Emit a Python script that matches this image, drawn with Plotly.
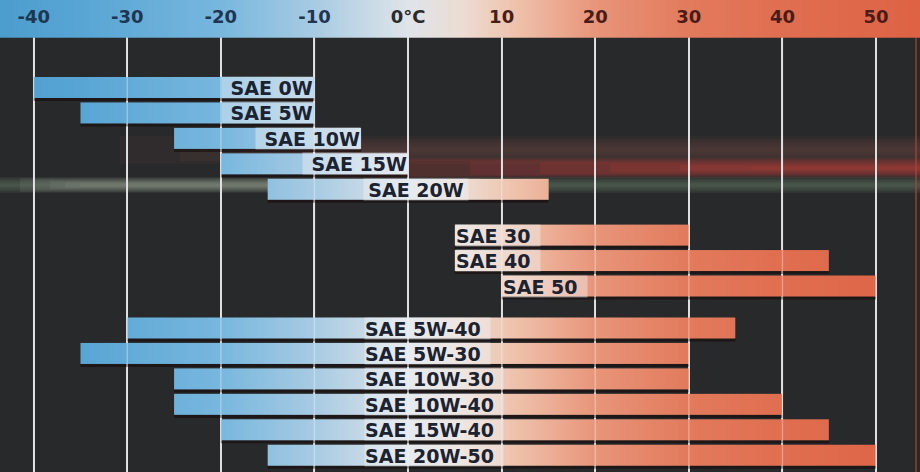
import numpy as np
import plotly.graph_objects as go

# oil grades and the temperature range (°C) each one covers
grades = ["SAE 0W", "SAE 5W", "SAE 10W", "SAE 15W", "SAE 20W",
          "SAE 30", "SAE 40", "SAE 50",
          "SAE 5W-40", "SAE 5W-30", "SAE 10W-30", "SAE 10W-40", "SAE 15W-40", "SAE 20W-50"]
low_temp = [-40, -35, -25, -20, -15, 5, 5, 10, -30, -35, -25, -25, -20, -15]
high_temp = [-10, -10, -5, 0, 15, 30, 45, 50, 35, 30, 30, 40, 45, 50]
group = [0, 0, 0, 0, 0, 1, 1, 1, 2, 2, 2, 2, 2, 2]

tick_vals = [-40, -30, -20, -10, 0, 10, 20, 30, 40, 50]
tick_text = ["-40", "-30", "-20", "-10", "0°C", "10", "20", "30", "40", "50"]

# ---- layout / style ----
W, H = 920, 472
X_RANGE = [-43.6, 54.7]
ROW_PX = 25.45          # pixels per row
FIRST_ROW_PX = 87.5     # pixel centre of the first bar
HEADER_PX = 38
BAR_HALF = 0.413
GAP_AFTER = {0: 0.8, 1: 0.65}

y_top = -FIRST_ROW_PX / ROW_PX
y_bottom = (H - FIRST_ROW_PX) / ROW_PX
header_bottom = y_top + HEADER_PX / ROW_PX

color_stops = [(-44, "#4b9dcd"), (-35, "#58a5d4"), (-20, "#78b7de"), (-10, "#a8cbe3"),
               (0, "#dfe4e9"), (6, "#ecdcd2"), (12, "#eebfa8"), (20, "#e8957a"),
               (30, "#e27a5c"), (40, "#e06e50"), (55, "#de6244")]
cmin, cmax = color_stops[0][0], color_stops[-1][0]
colorscale = [[(t - cmin) / (cmax - cmin), c] for t, c in color_stops]

# where each label sits: (anchor, temperature)
label_place = [("right", "hi"), ("right", "hi"), ("right", "hi"), ("right", "hi"), ("center", 0.8),
               ("left", "lo"), ("left", "lo"), ("left", "lo"),
               ("left", -4.7), ("left", -4.7), ("left", -4.7), ("left", -4.7), ("left", -4.7), ("left", -4.7)]

# DejaVu Sans Bold advance widths (em) for label box sizing
CHAR_EM = {"S": .72, "A": .774, "E": .683, " ": .348, "W": 1.03, "-": .415}
LABEL_FONT = 19


def text_px(s):
    return sum(CHAR_EM.get(ch, .696) for ch in s) * LABEL_FONT


def px_x(p):
    return p / W


def px_y(p):
    return 1 - p / H


# row positions with group gaps
pos = []
p = 0.0
for i, g in enumerate(group):
    if i > 0 and g != group[i - 1]:
        p += GAP_AFTER[group[i - 1]]
    pos.append(p)
    p += 1

fig = go.Figure()

STEP = 0.25


def gradient_strip(lo, hi, y0, y1):
    n = int(round((hi - lo) / STEP))
    edges = np.linspace(lo, hi, n + 1)
    mids = (edges[:-1] + edges[1:]) / 2
    fig.add_trace(go.Heatmap(
        x=edges, y=[y0, y1], z=[mids],
        colorscale=colorscale, zmin=cmin, zmax=cmax,
        showscale=False, hoverinfo="skip",
    ))


# header band
gradient_strip(-44, 55, y_top - 0.05, header_bottom)

# bars
for lo, hi, yp in zip(low_temp, high_temp, pos):
    gradient_strip(lo, hi, yp - BAR_HALF, yp + BAR_HALF)

# tick labels in header
tick_colors = ["#1e3652"] * 4 + ["#2b2b2b"] + ["#4a1c18"] * 5
fig.add_trace(go.Scatter(
    x=tick_vals, y=[y_top + 18 / ROW_PX] * len(tick_vals),
    text=tick_text, mode="text",
    textfont=dict(family="DejaVu Sans", size=18, color=tick_colors, weight="bold"),
    hoverinfo="skip", showlegend=False,
))

# grade labels
annotations = []
for name, lo, hi, yp, (anchor, at) in zip(grades, low_temp, high_temp, pos, label_place):
    x = hi if at == "hi" else lo if at == "lo" else at
    annotations.append(dict(
        x=x, y=yp, xref="x", yref="y", text=name, showarrow=False,
        xanchor=anchor, yanchor="middle", align=anchor if anchor != "center" else "center",
        width=text_px(name) + 10, height=21, borderpad=0,
        bgcolor="rgba(240,243,246,0.42)",
        font=dict(family="DejaVu Sans", size=LABEL_FONT, color="#1b2230", weight="bold"),
    ))

shapes = []

# dark shadow under each bar
for lo, hi, yp in zip(low_temp, high_temp, pos):
    shapes.append(dict(type="rect", xref="x", yref="y", x0=lo, x1=hi,
                       y0=yp + BAR_HALF, y1=yp + BAR_HALF + 0.12,
                       fillcolor="rgba(20,10,10,0.55)", line=dict(width=0), layer="between"))


def glare_band(x_start, x_end, y_mid, half, rgb, alpha, layers=6, x_shift=0):
    # soft band: stacked translucent rects, narrower and shorter towards the core
    for k in range(layers):
        f = 1 - k / layers
        shapes.append(dict(
            type="rect", xref="paper", yref="paper",
            x0=px_x(x_start + k * x_shift), x1=px_x(x_end),
            y0=px_y(y_mid + half * f), y1=px_y(y_mid - half * f),
            fillcolor=f"rgba({rgb},{alpha})", line=dict(width=0), layer="below"))


# glare across the background (below the grid)
glare_band(120, 920, 150, 14, "125,78,64", 0.1, layers=5, x_shift=60)
glare_band(330, 920, 168, 10, "210,72,62", 0.13, layers=7, x_shift=70)
glare_band(0, 920, 185, 8, "112,130,110", 0.13, layers=5)
glare_band(20, 480, 185, 7, "175,175,165", 0.1, layers=5, x_shift=15)

# faint grid lines showing through the bars
for t in tick_vals:
    shapes.append(dict(type="line", xref="x", yref="y", x0=t, x1=t,
                       y0=header_bottom, y1=y_bottom,
                       line=dict(color="rgba(255,255,255,0.3)", width=1.5), layer="above"))

# reddish edge at far right
shapes.append(dict(type="line", xref="paper", yref="paper",
                   x0=px_x(916), x1=px_x(916), y0=0, y1=px_y(HEADER_PX),
                   line=dict(color="rgba(170,70,55,0.6)", width=2), layer="below"))

fig.update_layout(
    width=W, height=H,
    margin=dict(l=0, r=0, t=0, b=0),
    paper_bgcolor="#28292b", plot_bgcolor="#28292b",
    showlegend=False,
    annotations=annotations,
    shapes=shapes,
)
fig.update_xaxes(range=X_RANGE, tickvals=tick_vals, showticklabels=False,
                 showgrid=True, gridcolor="#d6d6d6", gridwidth=1.8, zeroline=False)
fig.update_yaxes(range=[y_bottom, y_top], showgrid=False, showticklabels=False, zeroline=False)

fig.write_html("out.html", config={"displayModeBar": False},
               post_script="document.body.style.margin='0';document.body.style.overflow='hidden';")
